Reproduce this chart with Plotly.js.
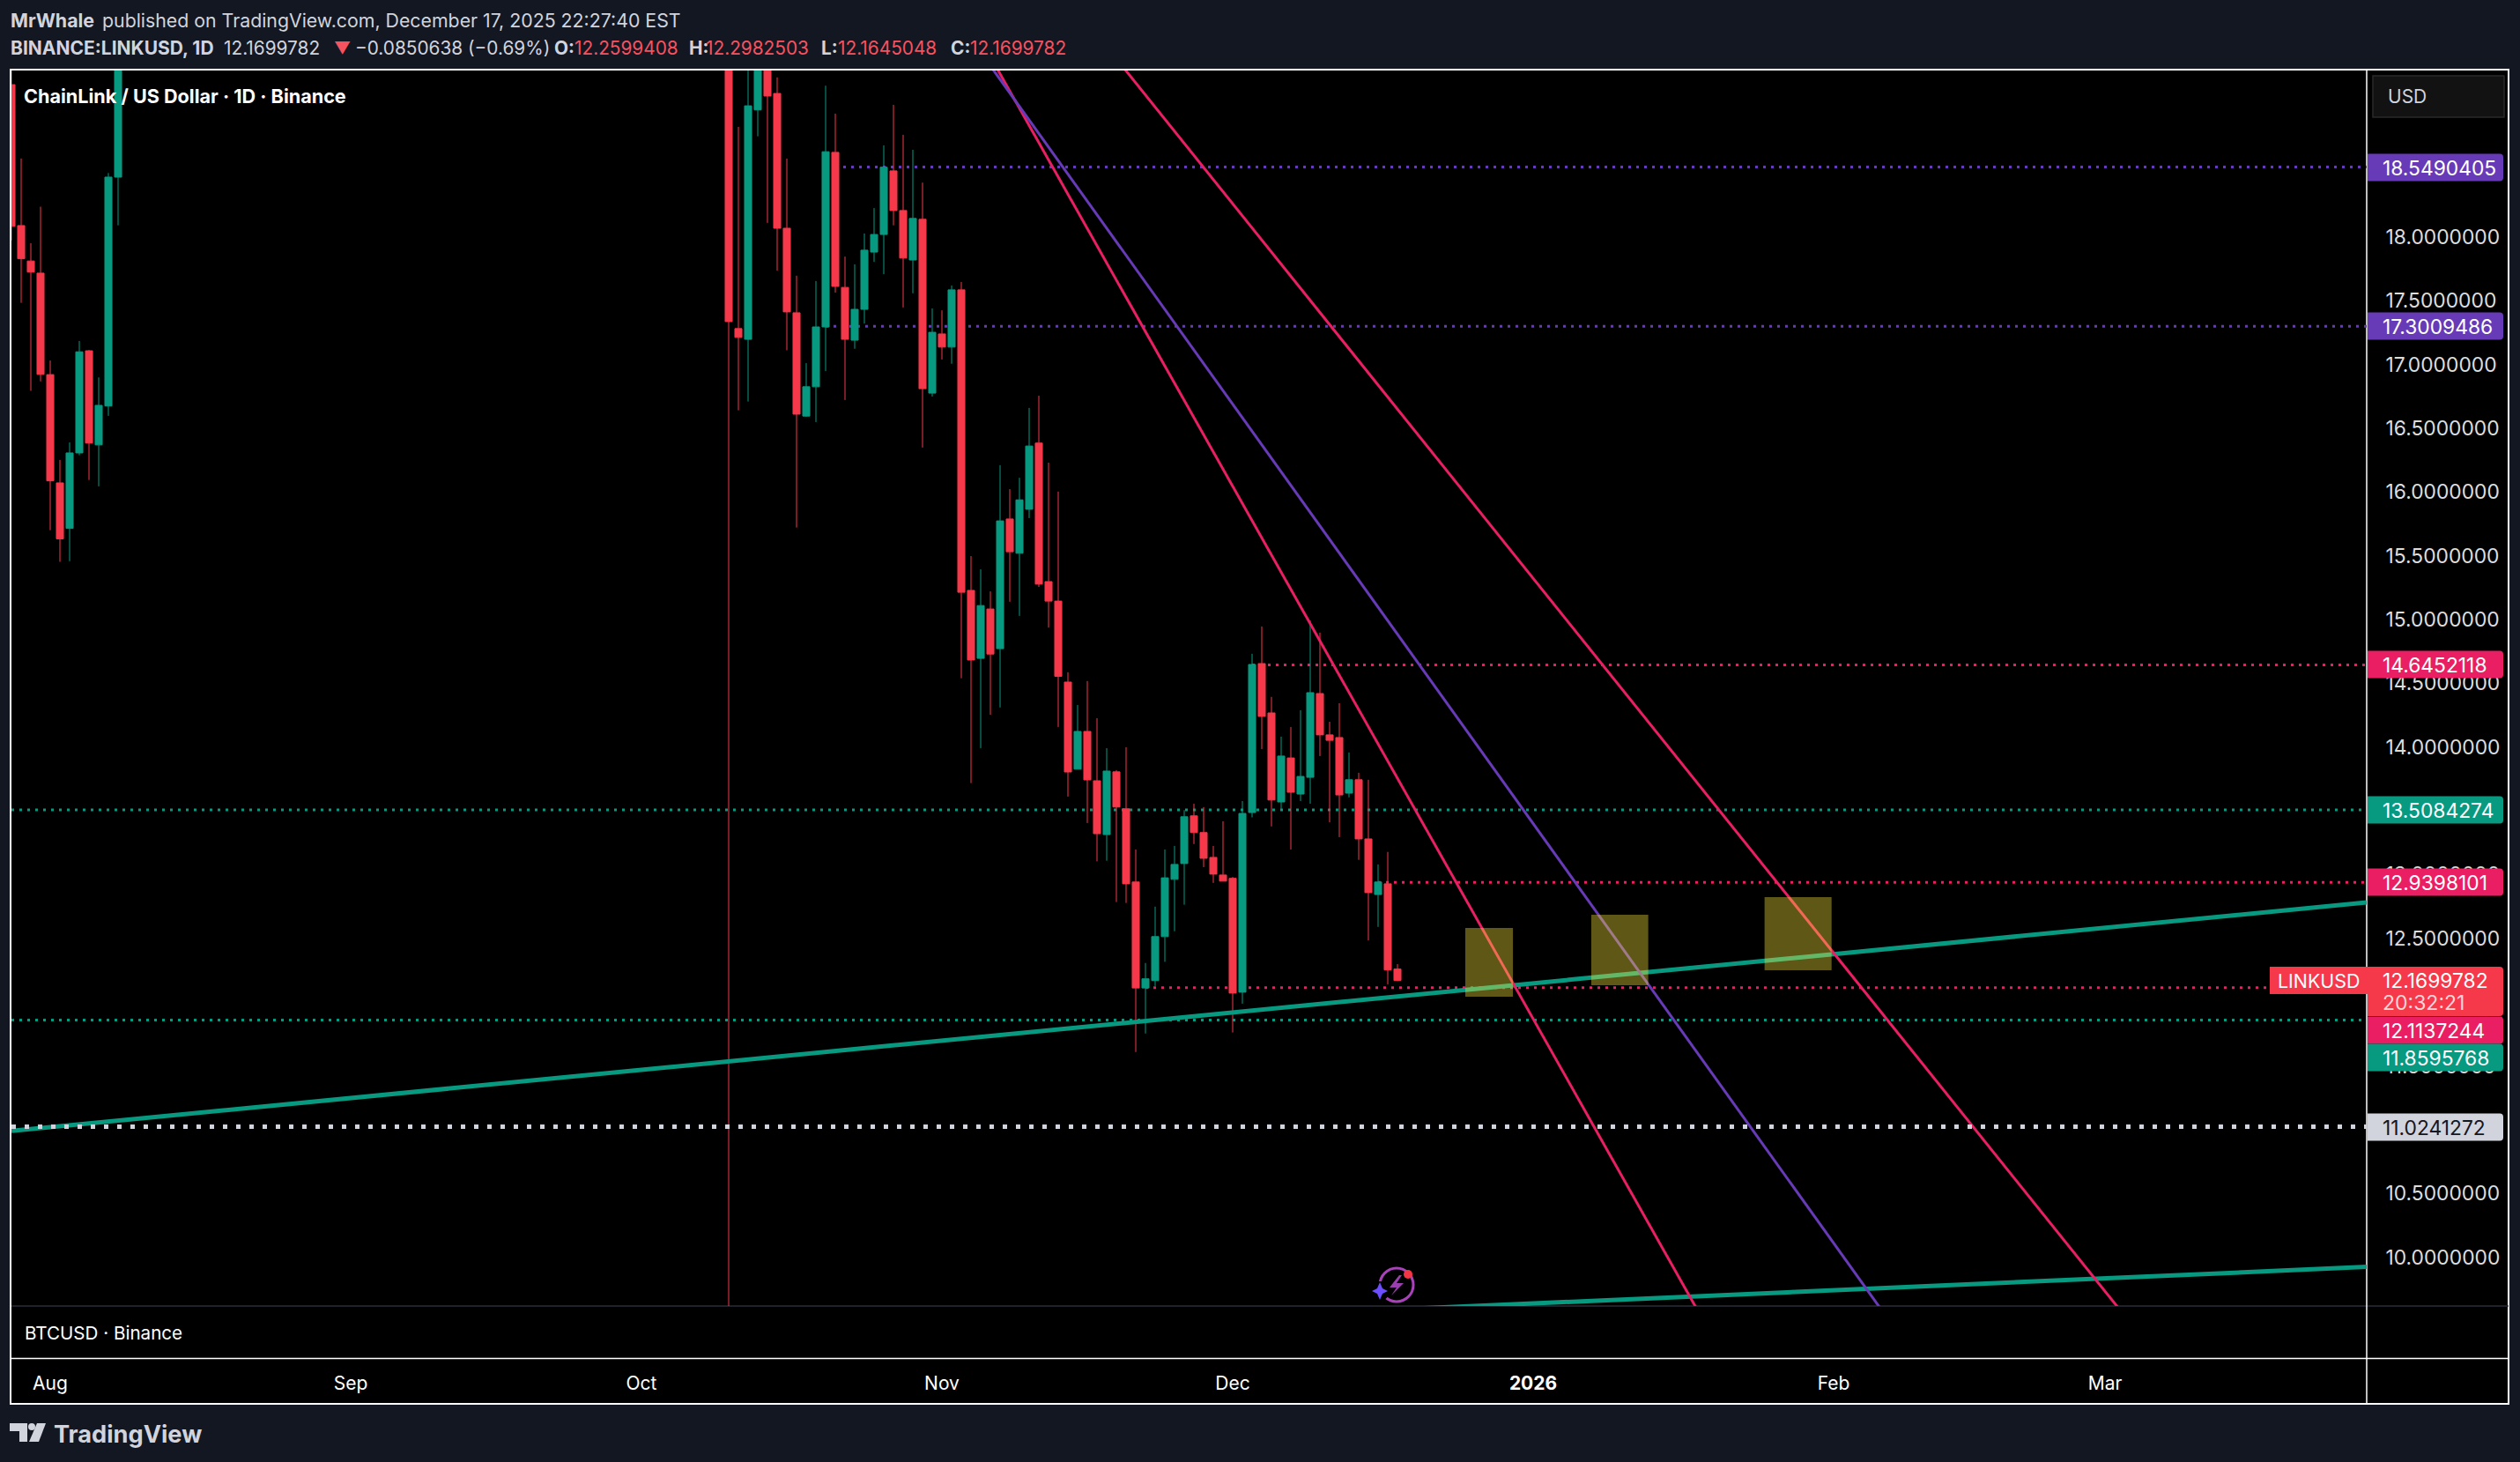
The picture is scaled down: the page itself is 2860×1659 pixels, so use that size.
<!DOCTYPE html>
<html><head><meta charset="utf-8">
<script src="https://cdn.plot.ly/plotly-3.0.1.min.js"></script>
<style>html,body{margin:0;padding:0;background:#131722}#c{width:2860px;height:1659px}</style></head>
<body><div id="c"></div>
<script>
const dates=['2025-07-28','2025-07-29','2025-07-30','2025-07-31','2025-08-01','2025-08-02','2025-08-03','2025-08-04','2025-08-05','2025-08-06','2025-08-07','2025-08-08',
'2025-10-10','2025-10-11','2025-10-12','2025-10-13','2025-10-14','2025-10-15','2025-10-16','2025-10-17','2025-10-18','2025-10-19','2025-10-20','2025-10-21','2025-10-22','2025-10-23','2025-10-24','2025-10-25','2025-10-26','2025-10-27','2025-10-28','2025-10-29','2025-10-30','2025-10-31',
'2025-11-01','2025-11-02','2025-11-03','2025-11-04','2025-11-05','2025-11-06','2025-11-07','2025-11-08','2025-11-09','2025-11-10','2025-11-11','2025-11-12','2025-11-13','2025-11-14','2025-11-15','2025-11-16','2025-11-17','2025-11-18','2025-11-19','2025-11-20','2025-11-21','2025-11-22','2025-11-23','2025-11-24','2025-11-25','2025-11-26','2025-11-27','2025-11-28','2025-11-29','2025-11-30',
'2025-12-01','2025-12-02','2025-12-03','2025-12-04','2025-12-05','2025-12-06','2025-12-07','2025-12-08','2025-12-09','2025-12-10','2025-12-11','2025-12-12','2025-12-13','2025-12-14','2025-12-15','2025-12-16','2025-12-17','2025-12-18'];
const opens=[19.195,18.09,17.812,17.717,16.921,16.072,15.715,16.307,17.108,16.370,16.675,18.470,
19.60,17.282,17.198,18.997,19.50,19.126,18.069,17.406,16.596,16.826,17.295,18.664,17.605,17.191,17.433,17.882,18.02,18.519,18.208,17.82,18.139,16.776,
17.24,17.137,17.586,15.229,14.696,15.083,14.772,15.789,15.52,15.865,16.384,15.298,15.145,14.51,13.827,14.123,13.736,13.314,13.806,13.516,12.942,12.111,12.169,12.514,12.963,13.087,13.461,13.33,13.135,12.997,
12.971,12.078,13.487,14.655,14.268,13.57,13.915,13.632,13.763,14.42,14.096,14.075,13.639,13.744,13.28,12.844,12.928,12.2599408];
const highs=[19.60,18.616,17.952,18.238,17.032,16.252,16.389,17.185,17.114,16.899,18.502,19.70,
19.80,18.864,19.60,19.70,19.70,19.252,18.615,17.697,17.011,17.655,19.187,18.968,17.847,17.786,18.028,18.227,18.719,19.037,18.802,18.684,18.427,17.44,
17.425,17.62,17.647,15.498,15.394,15.221,16.211,16.023,16.112,16.66,16.756,16.231,16.004,14.587,14.33,14.518,14.227,13.992,13.819,13.999,13.197,12.307,12.749,13.197,13.225,13.506,13.556,13.53,13.225,13.418,
12.982,13.577,14.732,14.946,14.394,14.082,14.158,14.289,14.993,14.898,14.199,14.344,13.958,13.799,13.744,13.08,13.178,12.2982503];
const lows=[17.973,17.484,16.794,16.868,15.701,15.453,15.458,16.289,16.095,16.045,16.598,18.092,
8.0,16.641,16.710,18.79,18.111,17.736,17.112,15.722,16.591,16.549,16.949,17.564,16.722,17.124,17.322,17.805,17.709,18.092,17.448,17.559,16.349,16.749,
17.04,17.006,14.54,13.718,13.992,14.254,14.311,15.14,15.029,15.796,15.256,14.937,14.158,13.612,13.827,13.405,13.104,13.109,12.785,12.778,11.609,11.754,12.126,12.316,12.556,12.764,13.24,13.059,12.935,12.949,
11.762,11.988,13.449,13.984,13.378,13.508,13.197,13.577,13.556,13.93,13.411,13.294,13.606,13.116,12.485,12.59,12.14,12.1645048];
const closes=[18.084,17.83,17.725,16.923,16.088,15.633,16.307,17.100,16.384,16.680,18.470,19.50,
17.337,17.213,19.029,19.50,19.106,18.069,17.413,16.611,16.826,17.295,18.669,17.613,17.198,17.433,17.897,18.02,18.548,18.208,17.835,18.146,16.811,17.253,
17.137,17.586,15.214,14.683,15.11,14.73,15.774,15.532,15.939,16.361,15.278,15.145,14.555,13.805,14.123,13.743,13.321,13.812,13.53,12.928,12.111,12.183,12.514,12.975,13.08,13.454,13.33,13.128,13.004,12.949,
12.071,13.48,14.648,14.241,13.585,13.93,13.646,13.77,14.427,14.096,14.053,13.625,13.744,13.28,12.859,12.942,12.252,12.1699782];

const tealMainX=['2025-07-28','2026-03-28'],tealMainY=[10.99,12.782];
const tealLowX=['2025-12-19','2026-03-28'],tealLowY=[9.594,9.924];
const pinkAX=['2025-11-05 19:12','2026-01-18 17:00'],pinkAY=[19.441,9.483];
const purpleX=['2025-11-05 08:00','2026-02-06 14:00'],purpleY=[19.413,9.518];
const pinkBX=['2025-11-18 23:20','2026-03-03 03:36'],pinkBY=[19.401,9.529];

const levelValues=[18.5490405,17.3009486,14.6452118,13.5084274,12.9398101,12.1137244,11.8595768,11.0241272];
const levelStarts=['2025-10-21','2025-10-20','2025-12-03','2025-07-28','2025-12-16','2025-11-22','2025-07-28','2025-07-28'];
const levelColors=['#673AB7','#673AB7','#E91E63','#089981','#E91E63','#E91E63','#089981','#D1D4DC'];
const levelLabels=['18.5490405','17.3009486','14.6452118','13.5084274','12.9398101','12.1137244','11.8595768','11.0241272'];
const levelLabelCentres=[190,370,754,919,1001,1169,1200,1279];

const zoneStarts=['2025-12-25','2026-01-07','2026-01-24 21:00'];
const zoneEnds=['2025-12-29 22:00','2026-01-12 21:00','2026-01-31 19:00'];
const zoneTops=[12.582,12.686,12.824];
const zoneBottoms=[12.043,12.133,12.25];

const priceTicks=[10,10.5,11.5,12.5,13,14,14.5,15,15.5,16,16.5,17,17.5,18];
const monthTicks=['2025-08-01','2025-09-01','2025-10-01','2025-11-01','2025-12-01','2026-01-01','2026-02-01','2026-03-01'];
const monthLabels=['Aug','Sep','Oct','Nov','Dec','<b>2026</b>','Feb','Mar'];

const L=13,R=2686,T=80,B=1482,W=2860,H=1659;
const px=x=>(x-L)/(R-L), py=y=>(B-y)/(B-T);
const FONT='Inter, Roboto, sans-serif';
const RED='#F5384A',GREEN='#089981';

function pRect(x0,y0,x1,y1,extra){return Object.assign({type:'rect',xref:'paper',yref:'paper',x0:px(x0),x1:px(x1),y0:py(y0),y1:py(y1),line:{width:0}},extra);}
function pPath(pts,fill){return {type:'path',xref:'paper',yref:'paper',layer:'above',fillcolor:fill,line:{width:0},
  path:'M'+pts.map(p=>px(p[0])+','+py(p[1])).join(' L')+' Z'};}
function tag(x0,y0,x1,y1,r,fill,line){
  const rx=r/(R-L),ry=r/(B-T),a=px(x0),b=px(x1),t=py(y0),u=py(y1);
  return {type:'path',xref:'paper',yref:'paper',layer:'above',fillcolor:fill,line:line||{width:0},
   path:`M${a},${t} L${b-rx},${t} Q${b},${t} ${b},${t-ry} L${b},${u+ry} Q${b},${u} ${b-rx},${u} L${a},${u} Z`};
}
function note(x,y,text,size,color,anchor){return {xref:'paper',yref:'paper',x:px(x),y:py(y),text:text,showarrow:false,xanchor:anchor||'left',yanchor:'middle',
  font:{family:FONT,size:size,color:color},borderpad:0,borderwidth:0};}

const shapes=[
 pRect(12,79,2847,1593,{layer:'below',fillcolor:'#000000',line:{color:'#FFFFFF',width:2}}),
 {type:'line',xref:'paper',yref:'paper',layer:'below',x0:px(13),x1:px(2847),y0:py(1482),y1:py(1482),line:{color:'#2A2E39',width:1.5}},
 {type:'line',xref:'paper',yref:'paper',layer:'below',x0:px(13),x1:px(2847),y0:py(1541.5),y1:py(1541.5),line:{color:'#FFFFFF',width:1.5}},
 {type:'line',xref:'paper',yref:'paper',layer:'below',x0:px(2686),x1:px(2686),y0:py(80),y1:py(1592),line:{color:'#FFFFFF',width:1.5}}
];
levelValues.forEach((v,i)=>{
  const white=levelColors[i]==='#D1D4DC';
  shapes.push({type:'line',xref:'x',yref:'y',layer:white?'above':'below',x0:levelStarts[i],x1:'2026-03-28',y0:v,y1:v,
    line:{color:levelColors[i],width:white?5:3,dash:white?'5px,10px':'3px,6px'}});
});
zoneStarts.forEach((s,i)=>shapes.push({type:'rect',xref:'x',yref:'y',layer:'above',x0:s,x1:zoneEnds[i],y0:zoneBottoms[i],y1:zoneTops[i],
  fillcolor:'rgba(255,235,59,0.37)',line:{width:0}}));
// USD button
shapes.push(tag(2693,86,2842,133,0.1,'#121212',{color:'#2A2A2A',width:1.5}));
// tags
levelLabels.forEach((t,i)=>shapes.push(tag(2687,levelLabelCentres[i]-15.5,2841,levelLabelCentres[i]+15.5,4,levelColors[i])));
shapes.push(tag(2687,1097,2841,1153,4,RED));
shapes.push(pRect(2576,1097,2687,1128,{layer:'above',fillcolor:RED}));
// alert badge
shapes.push({type:'circle',xref:'paper',yref:'paper',layer:'above',x0:px(1566),x1:px(1604),y0:py(1439),y1:py(1477),line:{color:'#A742B8',width:3}});
shapes.push(pPath([[1588,1447],[1577,1461],[1585,1461],[1579,1470],[1593,1456],[1585,1456],[1591,1447]],'#9A3FB0'));
shapes.push({type:'circle',xref:'paper',yref:'paper',layer:'above',x0:px(1555),x1:px(1577),y0:py(1454),y1:py(1476),fillcolor:'#000',line:{width:0}});
shapes.push(pPath([[1566,1455],[1569,1462],[1575,1465],[1569,1468],[1566,1475],[1563,1468],[1557,1465],[1563,1462]],'#6C4DFF'));
shapes.push({type:'circle',xref:'paper',yref:'paper',layer:'above',x0:px(1593),x1:px(1603),y0:py(1441),y1:py(1451),fillcolor:'#F23645',line:{width:0}});
// TradingView logo
shapes.push(pPath([[11,1615],[31,1615],[31,1636],[22,1636],[22,1624],[11,1624]],'#D1D4DC'));
shapes.push({type:'circle',xref:'paper',yref:'paper',layer:'above',x0:px(32),x1:px(40),y0:py(1615),y1:py(1623),fillcolor:'#D1D4DC',line:{width:0}});
shapes.push(pPath([[42,1615],[52,1615],[44,1636],[33,1636]],'#D1D4DC'));

const TXT='#D1D4DC',VAL='#F7525F';
const annotations=[
 note(12,23,'<b>MrWhale</b>',21.4,TXT),
 note(116,23,'published on TradingView.com, December 17, 2025 22:27:40 EST',21.3,TXT),
 note(12,55,'<b>BINANCE:LINKUSD, 1D</b>',21,TXT),
 note(253.5,55,'12.1699782',20.8,TXT),
 note(379,55,'▼',19,VAL),
 note(403,55,'−0.0850638 (−0.69%)',20.8,TXT),
 note(629,55,'<b>O:</b>',20.8,TXT),note(652,55,'12.2599408',20.8,VAL),
 note(781.6,55,'<b>H:</b>',20.8,TXT),note(800.7,55,'12.2982503',20.8,VAL),
 note(932,55,'<b>L:</b>',20.8,TXT),note(951,55,'12.1645048',20.8,VAL),
 note(1079,55,'<b>C:</b>',20.8,TXT),note(1100.8,55,'12.1699782',20.8,VAL),
 note(27,109,'<b>ChainLink / US Dollar · 1D · Binance</b>',21.6,'#FFFFFF'),
 note(28,1512,'BTCUSD · Binance',20.6,'#FFFFFF'),
 note(2710,109,'USD',21,TXT),
 note(61,1627,'<b>TradingView</b>',27.2,TXT),
 note(2585,1112.5,'LINKUSD',21.4,'#FFFFFF'),
 note(2704,1112.5,'12.1699782',22.8,'#FFFFFF'),
 note(2704,1137.5,'20:32:21',23,'#FFD4D8')
];
levelLabels.forEach((t,i)=>annotations.push(note(2704,levelLabelCentres[i],t,22.8,levelColors[i]==='#D1D4DC'?'#131722':'#FFFFFF')));

const line=(x,y,color,w)=>({type:'scatter',mode:'lines',x:x,y:y,line:{color:color,width:w},hoverinfo:'skip'});
const data=[
 {type:'candlestick',x:dates,open:opens,high:highs,low:lows,close:closes,whiskerwidth:0,hoverinfo:'skip',
  increasing:{line:{color:GREEN,width:1},fillcolor:GREEN},decreasing:{line:{color:RED,width:1},fillcolor:RED}},
 line(tealMainX,tealMainY,GREEN,5),
 line(tealLowX,tealLowY,GREEN,5),
 line(pinkAX,pinkAY,'#E91E63',3),
 line(purpleX,purpleY,'#673AB7',3),
 line(pinkBX,pinkBY,'#E91E63',3)
];
const layout={width:W,height:H,margin:{l:L,r:W-R,t:T,b:H-B,pad:0},paper_bgcolor:'#131722',plot_bgcolor:'rgba(0,0,0,0)',
 showlegend:false,boxgap:0.27,boxgroupgap:0,hovermode:false,shapes:shapes,annotations:annotations,
 font:{family:FONT},
 xaxis:{type:'date',range:['2025-07-28','2026-03-28'],showgrid:false,zeroline:false,showline:false,rangeslider:{visible:false},
   tickmode:'array',tickvals:monthTicks,ticktext:monthLabels,ticks:'outside',ticklen:69,tickcolor:'rgba(0,0,0,0)',tickwidth:0,tickangle:0,
   tickfont:{family:FONT,size:21,color:'#FFFFFF'}},
 yaxis:{type:'linear',side:'right',range:[9.617,19.306],showgrid:false,zeroline:false,showline:false,
   tickmode:'array',tickvals:priceTicks,ticktext:priceTicks.map(v=>v.toFixed(7)),ticks:'outside',ticklen:16,tickcolor:'rgba(0,0,0,0)',tickwidth:0,
   tickfont:{family:FONT,size:22.8,color:'#DDDDDD'}}
};
Plotly.newPlot('c',data,layout,{displayModeBar:false,staticPlot:true});
</script></body></html>
